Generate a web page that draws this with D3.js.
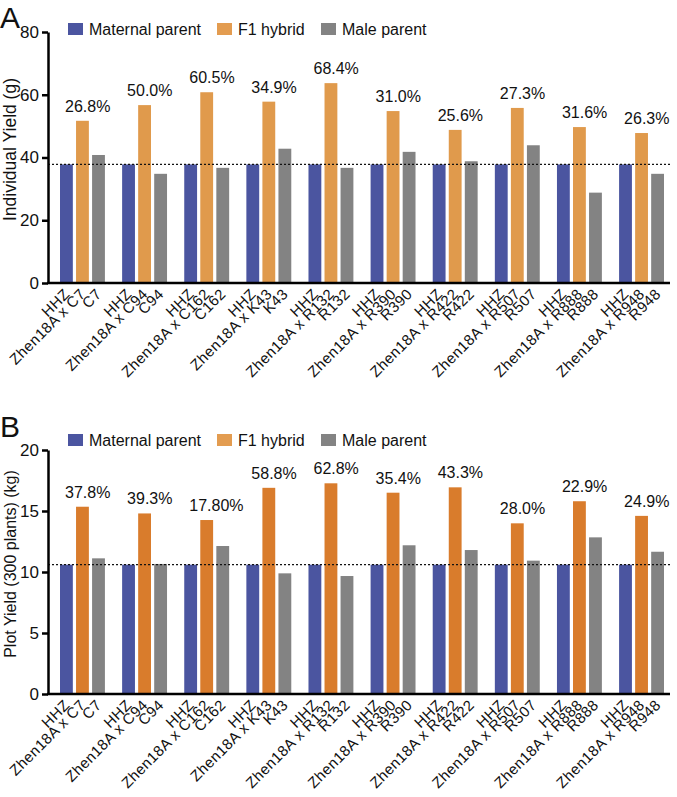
<!DOCTYPE html>
<html>
<head>
<meta charset="utf-8">
<script src="https://cdn.jsdelivr.net/npm/d3@7"></script>
<style>
  html, body { margin: 0; padding: 0; background: #fff; }
  text { font-family: "Liberation Sans", Arial, Helvetica, sans-serif; fill: #111; }
</style>
</head>
<body>
<svg id="chart" width="677" height="797"></svg>
<script>
// ---------- data ----------
const groups = ["C7", "C94", "C162", "K43", "R132", "R390", "R422", "R507", "R888", "R948"];
const seriesNames = ["Maternal parent", "F1 hybrid", "Male parent"];

// Panel A: individual yield (g)
const maternalA = [37.8, 37.8, 37.8, 37.8, 37.8, 37.8, 37.8, 37.8, 37.8, 37.8];
const f1A = [51.7, 56.7, 60.8, 57.8, 63.7, 54.8, 48.8, 55.8, 49.7, 47.8];
const maleA = [40.8, 34.8, 36.7, 42.8, 36.7, 41.8, 38.8, 43.9, 28.8, 34.8];
const heterosisA = ["26.8%", "50.0%", "60.5%", "34.9%", "68.4%", "31.0%", "25.6%", "27.3%", "31.6%", "26.3%"];
const refA = 37.8;
const ticksA = [0, 20, 40, 60, 80];

// Panel B: plot yield (300 plants) (kg)
const maternalB = [10.6, 10.6, 10.6, 10.6, 10.6, 10.6, 10.6, 10.6, 10.6, 10.6];
const f1B = [15.35, 14.8, 14.26, 16.9, 17.27, 16.5, 16.94, 13.99, 15.8, 14.6];
const maleB = [11.12, 10.66, 12.13, 9.89, 9.67, 12.19, 11.8, 10.93, 12.84, 11.66];
const heterosisB = ["37.8%", "39.3%", "17.80%", "58.8%", "62.8%", "35.4%", "43.3%", "28.0%", "22.9%", "24.9%"];
const refB = 10.6;
const ticksB = [0, 5, 10, 15, 20];

// ---------- drawing ----------
const svg = d3.select("#chart");

function drawPanel(cfg) {
  const g = svg.append("g");
  const x0 = d3.scaleBand().domain(groups).range([60, 664]).paddingInner(0.277).paddingOuter(0);
  const x1 = d3.scaleBand().domain(seriesNames).range([0, x0.bandwidth()]).paddingInner(0.2);
  const y = d3.scaleLinear().domain([0, cfg.ymax]).range([cfg.y0, cfg.y1]);

  const rows = groups.map((grp, i) => ({
    grp, i,
    vals: [
      { s: seriesNames[0], v: cfg.maternal[i], label: "HHZ" },
      { s: seriesNames[1], v: cfg.f1[i], label: "Zhen18A x " + grp },
      { s: seriesNames[2], v: cfg.male[i], label: grp }
    ]
  }));

  const colors = { "Maternal parent": "#4b55a0", "F1 hybrid": cfg.f1Color, "Male parent": "#838383" };

  // bars
  const gg = g.selectAll("g.grp").data(rows).join("g")
    .attr("transform", d => `translate(${x0(d.grp)},0)`);
  gg.selectAll("rect").data(d => d.vals).join("rect")
    .attr("x", d => x1(d.s))
    .attr("width", x1.bandwidth())
    .attr("y", d => y(d.v))
    .attr("height", d => y(0) - y(d.v))
    .attr("fill", d => colors[d.s]);

  // heterosis labels
  gg.append("text")
    .attr("x", 5)
    .attr("y", d => y(d.vals[1].v) - 9)
    .attr("font-size", 16)
    .text(d => cfg.heterosis[d.i]);

  // x labels
  gg.selectAll("text.xl").data(d => d.vals).join("text")
    .attr("class", "xl")
    .attr("text-anchor", "end")
    .attr("font-size", 15)
    .attr("letter-spacing", 0.4)
    .attr("transform", d => `translate(${x1(d.s) + x1.bandwidth() / 2 + 4},${cfg.y0 + 12}) rotate(-45)`)
    .text(d => d.label);

  // reference dotted line
  g.append("line")
    .attr("x1", 48).attr("x2", 670)
    .attr("y1", y(cfg.ref)).attr("y2", y(cfg.ref))
    .attr("stroke", "#111").attr("stroke-width", 1.3)
    .attr("stroke-dasharray", "2,2");

  // y axis
  const ya = g.append("g").attr("transform", "translate(48,0)")
    .call(d3.axisLeft(y).tickValues(cfg.ticks).tickSize(6).tickSizeOuter(0).tickPadding(3));
  ya.select(".domain").attr("stroke", "#000").attr("stroke-width", 2.5);
  ya.selectAll(".tick line").attr("stroke", "#000").attr("stroke-width", 2.5);
  ya.selectAll(".tick text").attr("font-size", 17).attr("font-family", "Liberation Sans, Arial, sans-serif").attr("fill", "#111");

  // x axis line
  g.append("line")
    .attr("x1", 47).attr("x2", 670)
    .attr("y1", cfg.y0).attr("y2", cfg.y0)
    .attr("stroke", "#000").attr("stroke-width", 2.5);

  // y title
  g.append("text")
    .attr("transform", `translate(${cfg.titleX},${(cfg.y0 + cfg.y1) / 2 - 8}) rotate(-90)`)
    .attr("text-anchor", "middle")
    .attr("font-size", cfg.titleSize)
    .text(cfg.ytitle);

  // panel letter
  g.append("text")
    .attr("x", 0).attr("y", cfg.letterY)
    .attr("font-size", 30)
    .text(cfg.letter);

  // legend
  const legX = [68, 217, 321];
  const lg = g.selectAll("g.leg").data(seriesNames).join("g")
    .attr("transform", (d, i) => `translate(${legX[i]},${cfg.legY})`);
  lg.append("rect").attr("x", 0).attr("y", -12).attr("width", 15).attr("height", 12)
    .attr("fill", (d, i) => i === 1 ? "#e39c50" : colors[d]);
  lg.append("text").attr("x", 21).attr("y", 0).attr("font-size", 16).text(d => d);
}

drawPanel({
  maternal: maternalA, f1: f1A, male: maleA, heterosis: heterosisA, ref: refA,
  ticks: ticksA, ymax: 80, y0: 283, y1: 32, f1Color: "#e09a4c",
  ytitle: "Individual Yield (g)", titleSize: 17.5, titleX: 16,
  letter: "A", letterY: 27.5, legY: 35
});
drawPanel({
  maternal: maternalB, f1: f1B, male: maleB, heterosis: heterosisB, ref: refB,
  ticks: ticksB, ymax: 20, y0: 694, y1: 450, f1Color: "#d97c2c",
  ytitle: "Plot Yield (300 plants) (kg)", titleSize: 16, titleX: 16,
  letter: "B", letterY: 437, legY: 446
});
</script>
</body>
</html>
